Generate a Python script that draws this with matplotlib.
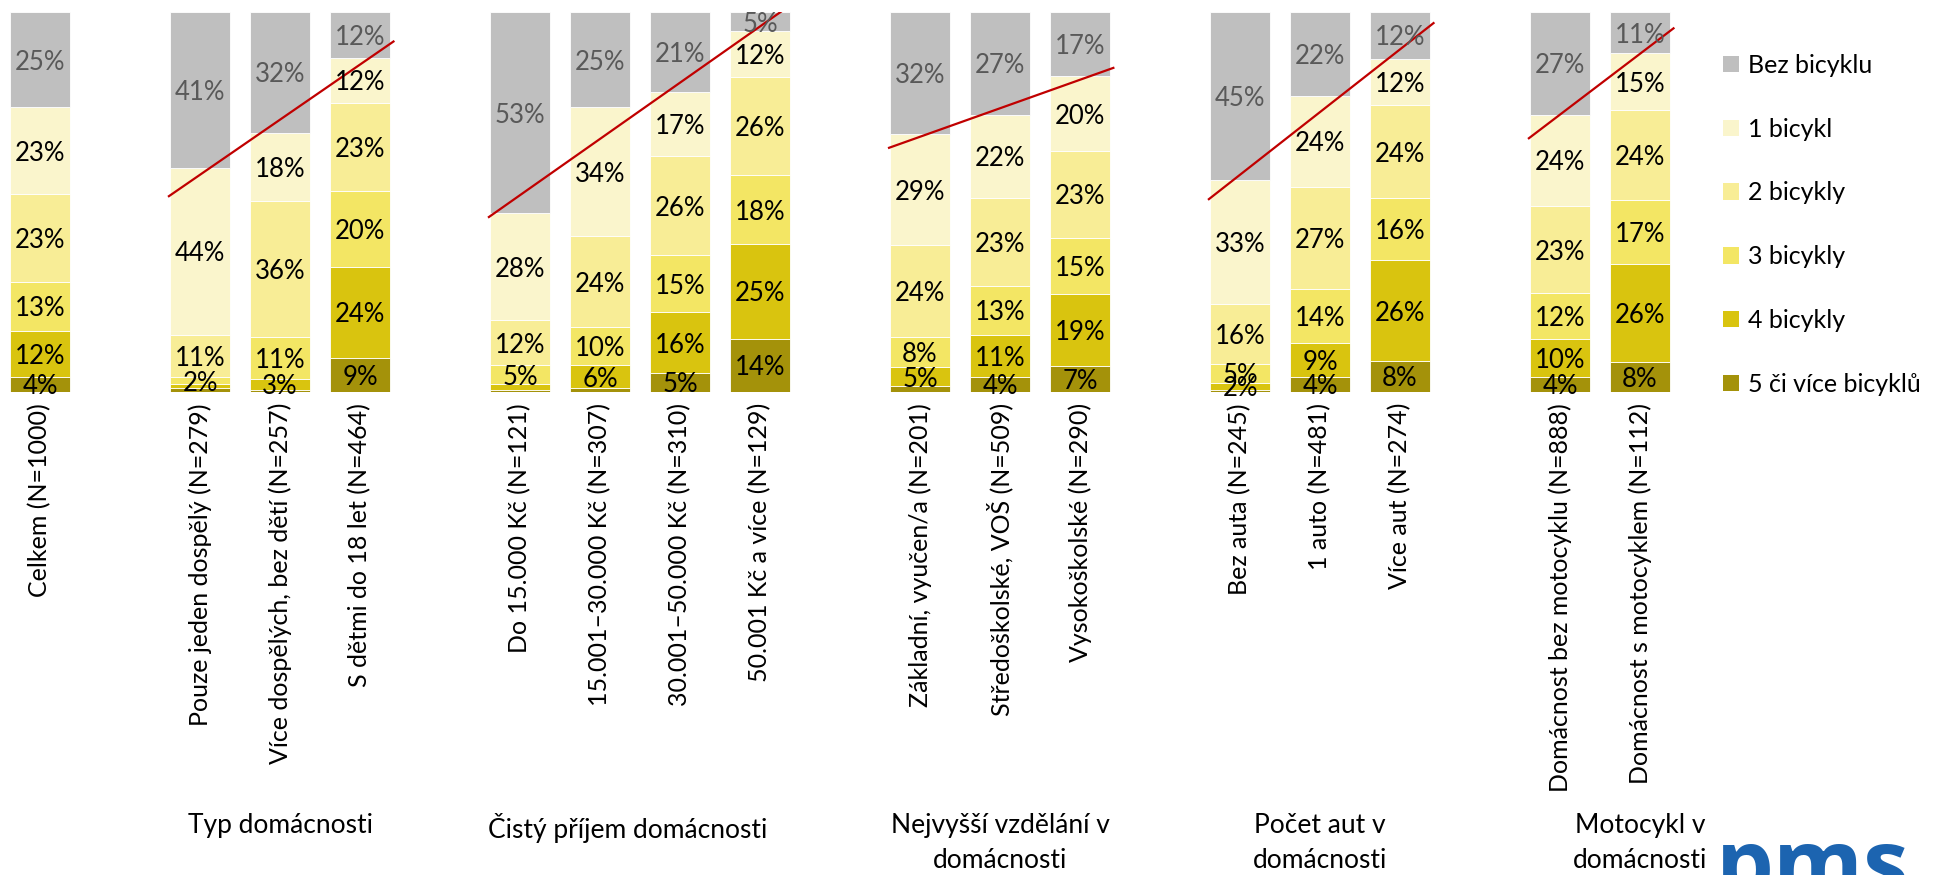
import numpy as np
import matplotlib
matplotlib.use("Agg")
import matplotlib.pyplot as plt
from matplotlib.patches import Patch
from matplotlib.transforms import blended_transform_factory

plt.rcParams['font.family'] = ['Lato', 'DejaVu Sans']

categories = ["Celkem (N=1000)",
              "Pouze jeden dospělý (N=279)", "Více dospělých, bez dětí (N=257)", "S dětmi do 18 let (N=464)",
              "Do 15.000 Kč (N=121)", "15.001–30.000 Kč (N=307)", "30.001–50.000 Kč (N=310)", "50.001 Kč a více (N=129)",
              "Základní, vyučen/a (N=201)", "Středoškolské, VOŠ (N=509)", "Vysokoškolské (N=290)",
              "Bez auta (N=245)", "1 auto (N=481)", "Více aut (N=274)",
              "Domácnost bez motocyklu (N=888)", "Domácnost s motocyklem (N=112)"]
group_sizes = [1, 3, 4, 3, 3, 2]
group_names = [None, "Typ domácnosti", "Čistý příjem domácnosti", "Nejvyšší vzdělání v\ndomácnosti",
               "Počet aut v\ndomácnosti", "Motocykl v\ndomácnosti"]

series_names = ["5 či více bicyklů", "4 bicykly", "3 bicykly", "2 bicykly", "1 bicykl", "Bez bicyklu"]
b5 = [4, 1, 0.5, 9, 0.5, 1, 5, 14, 1.5, 4, 7, 0.5, 4, 8, 4, 8]
b4 = [12, 1, 3, 24, 1.5, 6, 16, 25, 5, 11, 19, 2, 9, 26, 10, 26]
b3 = [13, 2, 11, 20, 5, 10, 15, 18, 8, 13, 15, 5, 14, 16, 12, 17]
b2 = [23, 11, 36, 23, 12, 24, 26, 26, 24, 23, 23, 16, 27, 24, 23, 24]
b1 = [23, 44, 18, 12, 28, 34, 17, 12, 29, 22, 20, 33, 24, 12, 24, 15]
bez = [25, 41, 32, 12, 53, 25, 21, 5, 32, 27, 17, 45, 22, 12, 27, 11]

colors = ["#A4920A", "#D9C40F", "#F3E664", "#F8ED96", "#FAF5CC", "#BFBFBF"]
label_colors = ["black"] * 5 + ["#595959"]

# slot positions: groups separated by one empty slot
positions = []
group_slots = []
s = 0
for g in group_sizes:
    sl = list(range(s, s + g))
    group_slots.append(sl)
    positions += sl
    s += g + 1
positions = np.array(positions, dtype=float)

data = np.array([b5, b4, b3, b2, b1, bez], dtype=float)
totals = data.sum(axis=0)
shares = data / totals * 100

W, H = 1939, 875
fig = plt.figure(figsize=(W / 100, H / 100), dpi=100)
ax = fig.add_axes([0, (H - 392) / H, 1680 / W, 380 / H])

bottom = np.zeros(len(categories))
for i, name in enumerate(series_names):
    ax.bar(positions, shares[i], bottom=bottom, width=0.76, color=colors[i],
           edgecolor="white", linewidth=0.6, label=name)
    for x, b, h, v in zip(positions, bottom, shares[i], data[i]):
        if v >= 2:
            ax.text(x, b + h / 2, f"{v:.0f}%", ha="center", va="center_baseline",
                    fontsize=18.5, color=label_colors[i])
    bottom += shares[i]

# trend lines of share of households with a bicycle
have_bike = 100 - np.array(bez, dtype=float)
idx = 0
for sl in group_slots:
    n = len(sl)
    if n > 1:
        xs = np.array(sl, dtype=float)
        ys = have_bike[idx:idx + n]
        k, q = np.polyfit(xs, ys, 1)
        xl = np.array([xs[0] - 0.4, xs[-1] + 0.43])
        ax.plot(xl, k * xl + q, color="#C00000", linewidth=1.6, solid_capstyle="butt")
    idx += n

ax.set_xlim(-0.5, 20.5)
ax.set_ylim(0, 100)
ax.set_xticks(positions)
ax.set_xticklabels(categories, rotation=90, fontsize=18, va="top", ha="center")
ax.tick_params(axis="x", length=0, pad=8)
ax.set_yticks([])
for sp in ax.spines.values():
    sp.set_visible(False)

trans = blended_transform_factory(ax.transData, fig.transFigure)
group_label_x = [None, 3, 7.34, 12, 16, 20]
for name, gx in zip(group_names, group_label_x):
    if name:
        ax.text(gx, (H - 813) / H, name, transform=trans, ha="center", va="top",
                fontsize=19, linespacing=1.5, multialignment="center")

handles = [Patch(facecolor=colors[i], edgecolor="none") for i in range(5, -1, -1)]
labels = [series_names[i] for i in range(5, -1, -1)]
fig.legend(handles, labels, loc="upper left", bbox_to_anchor=(1723 / W, (H - 54) / H),
           frameon=False, fontsize=18, handlelength=0.64, handleheight=0.64,
           handletextpad=0.35, labelspacing=1.63, borderaxespad=0, borderpad=0)

fig.text(1716 / W, -20 / H, "pms", fontsize=66, fontweight="bold", color="#1C64B0",
         ha="left", va="baseline", family=["Open Sans", "DejaVu Sans"])

fig.savefig("out.png", dpi=100)
